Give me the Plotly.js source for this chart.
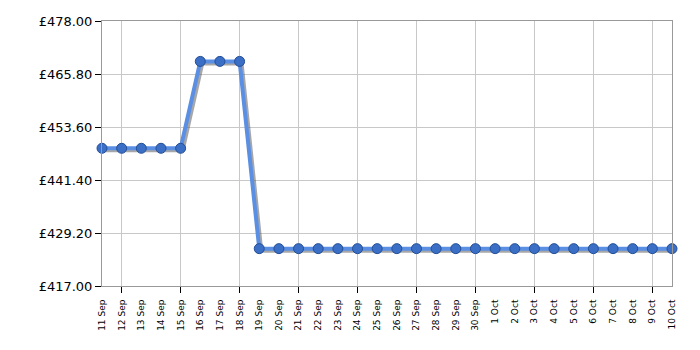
<!DOCTYPE html>
<html>
<head>
<meta charset="utf-8">
<script src="https://cdn.plot.ly/plotly-3.0.1.min.js"></script>
<style>html,body{margin:0;padding:0;background:#fff;}#chart{width:700px;height:350px;}</style>
</head>
<body>
<div id="chart"></div>
<script>
const dates = ["11 Sep","12 Sep","13 Sep","14 Sep","15 Sep","16 Sep","17 Sep","18 Sep","19 Sep","20 Sep",
  "21 Sep","22 Sep","23 Sep","24 Sep","25 Sep","26 Sep","27 Sep","28 Sep","29 Sep","30 Sep",
  "1 Oct","2 Oct","3 Oct","4 Oct","5 Oct","6 Oct","7 Oct","8 Oct","9 Oct","10 Oct"];
const prices = [448.7,448.7,448.7,448.7,448.7,468.7,468.7,468.7,425.6,425.6,
  425.6,425.6,425.6,425.6,425.6,425.6,425.6,425.6,425.6,425.6,
  425.6,425.6,425.6,425.6,425.6,425.6,425.6,425.6,425.6,425.6];
const yTicks = [417.00,429.20,441.40,453.60,465.80,478.00];
const yTickText = ["£417.00","£429.20","£441.40","£453.60","£465.80","£478.00"];
const gridDays = ["12 Sep","15 Sep","18 Sep","21 Sep","24 Sep","27 Sep","30 Sep","3 Oct","6 Oct","9 Oct"];

const idx = dates.map((d,i)=>i);
const gridIdx = gridDays.map(d=>dates.indexOf(d));

const W = 700, H = 350;
const mL = 102, mR = 28, mT = 21, mB = 64;
const pw = W - mL - mR, ph = H - mT - mB;
const xr = [0, dates.length - 1];
const yr = [yTicks[0], yTicks[yTicks.length-1]];
// shadow offset in pixels -> data units
const sx = 2 * (xr[1]-xr[0]) / pw;
const sy = 2 * (yr[1]-yr[0]) / ph;

const font = {family:"DejaVu Sans, Verdana, sans-serif", color:"#000"};

const traces = [
  { // drop shadow (main subplot, shifted ranges)
    x: idx, y: prices, xaxis:"x", yaxis:"y", mode:"lines",
    line:{color:"rgba(80,80,80,0.5)", width:4}, hoverinfo:"skip", cliponaxis:false, showlegend:false
  },
  { // helper for vertical grid axis
    x: idx, y: prices, xaxis:"x3", yaxis:"y2", mode:"lines",
    line:{width:0, color:"rgba(0,0,0,0)"}, hoverinfo:"skip", showlegend:false
  },
  {
    x: idx, y: prices, xaxis:"x2", yaxis:"y2", mode:"lines+markers", cliponaxis:false, showlegend:false,
    line:{color:"#5b8fe3", width:4},
    marker:{size:10, color:"#3b6fc6", line:{color:"#234e96", width:1}}
  }
];

const layout = {
  width: W, height: H,
  margin:{l:mL, r:mR, t:mT, b:mB, pad:0},
  paper_bgcolor:"#fff", plot_bgcolor:"#fff",
  showlegend:false,
  xaxis:{range:[xr[0]-sx, xr[1]-sx], visible:false, showgrid:false, zeroline:false, fixedrange:true},
  yaxis:{range:[yr[0]+sy, yr[1]+sy], visible:false, showgrid:false, zeroline:false, fixedrange:true},
  xaxis2:{
    overlaying:"x", anchor:"y2", side:"bottom", range:xr,
    tickmode:"array", tickvals: idx, ticktext: dates,
    tickangle:-90, tickfont:Object.assign({size:9}, font),
    showgrid:false, zeroline:false, ticks:"outside", ticklen:9, tickcolor:"rgba(0,0,0,0)",
    showline:true, linecolor:"#999", linewidth:1, mirror:true, fixedrange:true
  },
  xaxis3:{
    overlaying:"x", anchor:"y2", side:"bottom", range:xr,
    tickmode:"array", tickvals: gridIdx, showticklabels:false,
    showgrid:true, gridcolor:"#c8c8c8", gridwidth:1,
    ticks:"outside", ticklen:6, tickcolor:"#000", tickwidth:1,
    zeroline:false, showline:false, fixedrange:true
  },
  yaxis2:{
    overlaying:"y", anchor:"x2", side:"left", range:yr,
    tickmode:"array", tickvals: yTicks, ticktext: yTickText,
    tickfont:Object.assign({size:13}, font),
    showgrid:true, gridcolor:"#c8c8c8", gridwidth:1,
    ticks:"outside", ticklen:6, tickcolor:"#000", tickwidth:1,
    zeroline:false, showline:true, linecolor:"#999", linewidth:1, mirror:true, fixedrange:true
  }
};

Plotly.newPlot("chart", traces, layout, {displayModeBar:false, staticPlot:true});
</script>
</body>
</html>
